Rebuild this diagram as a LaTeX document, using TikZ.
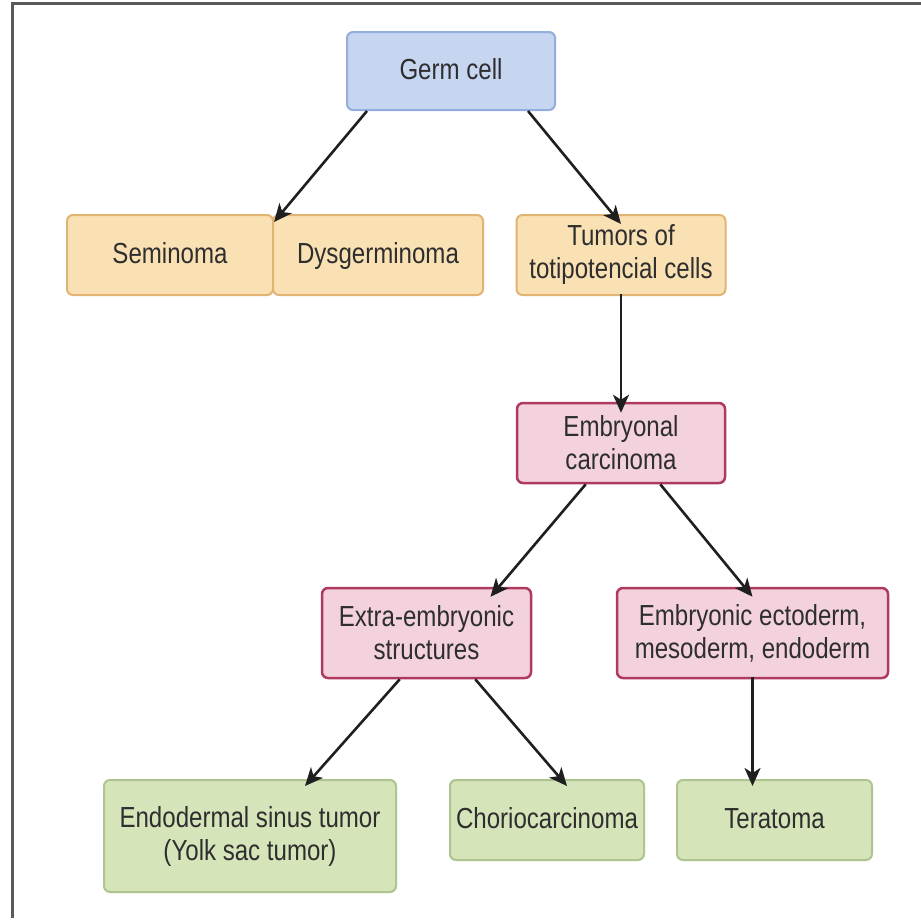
\documentclass[tikz,border=0pt]{standalone}
\usepackage{fontspec}
\setmainfont[FakeStretch=0.83]{Liberation Sans}
\usetikzlibrary{arrows.meta}
\definecolor{txt}{HTML}{2E2E2E}
\definecolor{bluefill}{HTML}{C6D6F1}
\definecolor{blueline}{HTML}{93AEDD}
\definecolor{orfill}{HTML}{FAE1B4}
\definecolor{orline}{HTML}{E2B474}
\definecolor{pkfill}{HTML}{F3D2DE}
\definecolor{pkline}{HTML}{B03A5E}
\definecolor{grfill}{HTML}{D6E4BA}
\definecolor{grline}{HTML}{AEC48E}
\definecolor{frame}{HTML}{5A5A5A}
\tikzset{
  box/.style={rectangle, rounded corners=6pt, line width=2pt, align=center,
    text=txt, font=\fontsize{29}{33}\selectfont, inner sep=0pt},
  oneline/.style={text height=22pt, text depth=5pt},
  bluebox/.style={box, fill=bluefill, draw=blueline},
  orbox/.style={box, fill=orfill, draw=orline},
  pkbox/.style={box, fill=pkfill, draw=pkline, line width=2.5pt},
  grbox/.style={box, fill=grfill, draw=grline},
  arr/.style={line width=2.6pt, draw=black!88, -{Stealth[length=18pt,width=16pt,inset=5pt]}}
}
\begin{document}
\begin{tikzpicture}[x=1pt,y=-1pt]
\useasboundingbox (0,0) rectangle (921,921);
\fill[white] (0,0) rectangle (921,921);
% frame
\coordinate (ftl) at (12,3);
\coordinate (ftr) at (921,3);
\coordinate (fbl) at (12,918);
\draw[frame, line width=3pt] (ftr) -- (ftl) -- (fbl);

\node[bluebox, oneline, minimum width=208pt, minimum height=78pt] (germ) at (451,71) {Germ cell};
\node[orbox, oneline, minimum width=206pt, minimum height=80pt] (sem) at (170,255) {Seminoma};
\node[orbox, oneline, minimum width=210pt, minimum height=80pt] (dys) at (378,255) {Dysgerminoma};
\node[orbox, minimum width=209pt, minimum height=80pt] (tot) at (621,255) {Tumors of\\totipotencial cells};
\node[pkbox, minimum width=208pt, minimum height=80pt] (emb) at (621,443) {Embryonal\\carcinoma};
\node[pkbox, minimum width=209pt, minimum height=90pt] (ext) at (426.5,633) {Extra-embryonic\\structures};
\node[pkbox, minimum width=271pt, minimum height=90pt] (ecto) at (752.5,633) {Embryonic ectoderm,\\mesoderm, endoderm};
\node[grbox, minimum width=292pt, minimum height=112pt] (endo) at (250,836) {Endodermal sinus tumor\\(Yolk sac tumor)};
\node[grbox, oneline, minimum width=194pt, minimum height=80pt] (chorio) at (547,820) {Choriocarcinoma};
\node[grbox, oneline, minimum width=195pt, minimum height=80pt] (tera) at (774.5,820) {Teratoma};

\draw[arr] ([xshift=21pt]germ.south west) -- ([yshift=-8pt]sem.north east);
\draw[arr] ([xshift=-28pt]germ.south east) -- ([yshift=-10pt]tot.north);
\draw[arr] ([yshift=2pt]tot.south) -- ([yshift=-11pt]emb.north);
\draw[arr] ([xshift=70pt]emb.south west) -- ([xshift=64pt,yshift=-10pt]ext.north);
\draw[arr] ([xshift=-66pt]emb.south east) -- ([yshift=-10pt]ecto.north);
\draw[arr] ([xshift=79pt]ext.south west) -- ([xshift=55pt,yshift=-7pt]endo.north);
\draw[arr] ([xshift=-57pt]ext.south east) -- ([xshift=20pt,yshift=-7pt]chorio.north);
\draw[arr] ([yshift=2pt]ecto.south) -- ([xshift=-22pt,yshift=-7pt]tera.north);
\end{tikzpicture}
\end{document}
